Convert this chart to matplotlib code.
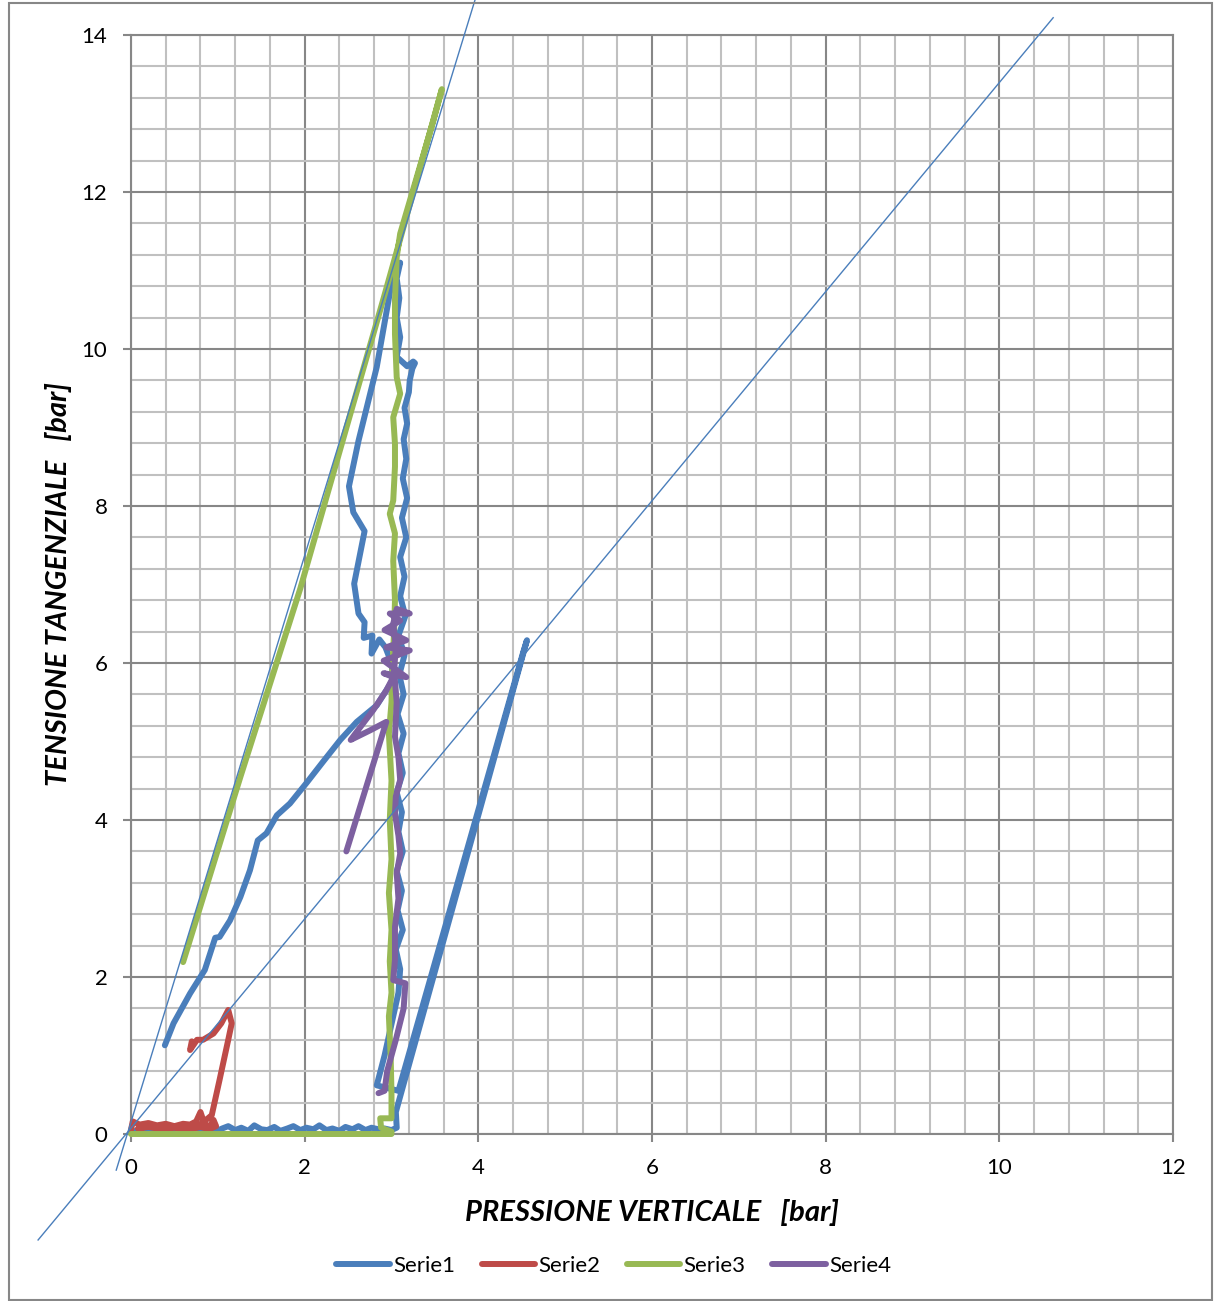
import numpy as np
import matplotlib
matplotlib.use("Agg")
import matplotlib.pyplot as plt
from matplotlib.ticker import MultipleLocator
from matplotlib.patches import Rectangle

plt.rcParams['font.family'] = ['Lato', 'DejaVu Sans']

# ---------------- data ----------------
# Serie1
s1_x = [0.00, 0.08, 0.15, 0.22, 0.30, 0.37, 0.44, 0.52, 0.60, 0.67, 0.74, 0.82, 0.90, 0.97, 1.05, 1.12,
        1.20, 1.27, 1.35, 1.42, 1.50, 1.57, 1.65, 1.72, 1.80, 1.87, 1.95, 2.02, 2.10, 2.17, 2.25, 2.32,
        2.40, 2.47, 2.55, 2.62, 2.70, 2.77, 2.85, 2.92, 3.00, 3.06,
        3.05, 4.56, 4.52, 3.08, 2.83,
        2.92, 3.00, 3.08, 3.10, 3.05, 3.13, 3.07, 3.12, 3.06, 3.13, 3.08, 3.12, 3.06, 3.13, 3.08, 3.14,
        3.07, 3.14, 3.09, 3.15, 3.08, 3.16, 3.10, 3.15, 3.10, 3.17, 3.12, 3.18, 3.13, 3.17, 3.14,
        3.18, 3.15, 3.20, 3.21, 3.24, 3.27, 3.25, 3.18, 3.06, 3.10, 3.06, 3.09, 3.06, 3.10,
        3.02, 2.83, 2.62, 2.51, 2.56, 2.69, 2.57, 2.62, 2.69, 2.68, 2.78, 2.77, 2.86, 2.93, 3.00, 3.02,
        2.98, 2.83, 2.60, 2.41, 2.21, 2.02, 1.83, 1.68, 1.56, 1.46, 1.37, 1.26, 1.14, 1.02, 0.97, 0.85,
        0.68, 0.49, 0.39]
s1_y = [0.02, 0.05, 0.03, 0.07, 0.04, 0.06, 0.03, 0.08, 0.05, 0.04, 0.09, 0.05, 0.06, 0.03, 0.07, 0.10,
        0.05, 0.08, 0.04, 0.11, 0.06, 0.05, 0.09, 0.04, 0.07, 0.10, 0.05, 0.08, 0.06, 0.11, 0.05, 0.07,
        0.04, 0.09, 0.06, 0.10, 0.05, 0.08, 0.06, 0.07, 0.05, 0.08,
        0.28, 6.29, 6.15, 0.55, 0.62,
        1.00, 1.40, 1.80, 2.10, 2.35, 2.60, 2.85, 3.10, 3.35, 3.60, 3.85, 4.10, 4.35, 4.60, 4.85, 5.10,
        5.35, 5.60, 5.85, 6.10, 6.35, 6.60, 6.85, 7.10, 7.35, 7.60, 7.85, 8.10, 8.35, 8.60, 8.85,
        9.05, 9.25, 9.45, 9.60, 9.75, 9.82, 9.84, 9.78, 9.90, 10.15, 10.40, 10.65, 10.90, 11.10,
        10.96, 9.77, 8.83, 8.25, 7.92, 7.68, 7.01, 6.63, 6.52, 6.32, 6.35, 6.12, 6.30, 6.20, 6.00, 5.80,
        5.72, 5.46, 5.25, 5.02, 4.74, 4.47, 4.21, 4.06, 3.83, 3.74, 3.36, 3.02, 2.72, 2.51, 2.50, 2.09,
        1.79, 1.41, 1.13]

# Serie2
s2_x = [0.00, 0.02, 0.10, 0.20, 0.30, 0.40, 0.50, 0.60, 0.68, 0.75, 0.80, 0.84, 0.90, 0.95, 0.98,
        0.90, 0.80, 0.65, 0.50, 0.35, 0.20, 0.08, 0.20, 0.40, 0.60, 0.80,
        0.93, 1.02, 1.12, 1.16, 1.12, 1.04, 0.95, 0.83, 0.76, 0.68, 0.70]
s2_y = [0.05, 0.16, 0.12, 0.14, 0.11, 0.13, 0.10, 0.13, 0.12, 0.16, 0.28, 0.15, 0.08, 0.18, 0.10,
        0.06, 0.09, 0.05, 0.08, 0.06, 0.09, 0.07, 0.10, 0.08, 0.10, 0.12,
        0.24, 0.69, 1.20, 1.41, 1.58, 1.41, 1.28, 1.20, 1.20, 1.07, 1.18]

# Serie3
s3_x = [0.00, 1.00, 2.00, 3.00, 3.00, 2.88, 2.87, 3.00, 3.00, 2.99, 2.97, 3.00, 2.98, 3.00, 2.97,
        3.00, 2.98, 3.00, 2.97, 3.00, 3.01, 3.03, 3.04, 3.02, 3.04, 2.98, 3.02, 3.04, 3.04, 3.02, 3.10,
        3.06, 3.04, 3.04, 3.06, 3.10, 3.48, 3.58,
        3.10, 2.91, 2.52, 1.95, 1.26, 0.60]
s3_y = [0.00, 0.00, 0.00, 0.00, 0.03, 0.08, 0.20, 0.20, 0.52, 1.00, 1.50, 1.80, 2.20, 2.60, 3.07,
        3.50, 4.00, 4.50, 5.10, 5.50, 5.95, 6.40, 6.80, 7.30, 7.65, 7.90, 8.07, 8.50, 8.79, 9.13, 9.43,
        9.64, 10.19, 10.62, 11.17, 11.47, 12.90, 13.31,
        11.40, 10.65, 9.15, 6.95, 4.55, 2.19]

# Serie4
s4_x = [2.48, 2.94, 2.75, 2.53, 2.57, 2.70, 2.79, 2.94, 3.02,
        2.91, 3.17, 2.91, 3.21, 2.94, 3.17, 2.92, 3.10, 2.98, 3.21, 3.06, 3.02, 3.05, 3.03,
        3.06, 3.04, 3.08, 3.10, 3.05, 3.04, 3.08, 3.10, 3.06, 3.08, 3.04, 3.04, 3.02, 3.16,
        3.14, 3.05, 2.95, 2.92, 2.85]
s4_y = [3.60, 5.25, 5.14, 5.02, 5.08, 5.27, 5.40, 5.65, 5.82,
        5.87, 5.82, 6.03, 6.16, 6.20, 6.29, 6.42, 6.54, 6.63, 6.63, 6.69, 6.50, 6.20, 5.90,
        5.50, 5.06, 4.80, 4.51, 4.30, 4.08, 3.80, 3.57, 3.32, 3.00, 2.64, 2.22, 1.96, 1.92,
        1.60, 1.20, 0.80, 0.55, 0.52]

# reference straight lines (endpoints, data units)
line_a_x = [-0.17, 3.96]
line_a_y = [-0.46, 14.44]
line_b_x = [-1.07, 10.62]
line_b_y = [-1.35, 14.22]

series_names = ['Serie1', 'Serie2', 'Serie3', 'Serie4']
series_colors = ['#4A7EBB', '#BE4B48', '#98B954', '#7D60A0']

# ---------------- figure ----------------
fig = plt.figure(figsize=(12.15, 13.01), dpi=100)
ax = fig.add_axes([131 / 1215, 1 - 1134 / 1301, (1173 - 131) / 1215, (1134 - 35) / 1301])

ax.set_xlim(0, 12)
ax.set_ylim(0, 14)
ax.xaxis.set_major_locator(MultipleLocator(2))
ax.yaxis.set_major_locator(MultipleLocator(2))
ax.xaxis.set_minor_locator(MultipleLocator(0.4))
ax.yaxis.set_minor_locator(MultipleLocator(0.4))
ax.grid(which='minor', color='#C0C0C0', linewidth=1.5, zorder=0)
ax.grid(which='major', color='#878787', linewidth=1.5, zorder=0)
ax.set_axisbelow(True)
for s in ax.spines.values():
    s.set_color('#878787')
    s.set_linewidth(1.5)
ax.tick_params(which='major', direction='out', length=6, width=1.5, color='#878787',
               labelsize=16)
ax.tick_params(axis='x', which='major', pad=11)
ax.tick_params(axis='y', which='major', pad=11)
ax.tick_params(which='minor', length=0)

data = [(s1_x, s1_y), (s2_x, s2_y), (s3_x, s3_y), (s4_x, s4_y)]
for (xs, ys), name, col in zip(data, series_names, series_colors):
    ax.plot(xs, ys, color=col, linewidth=4.3, label=name, solid_joinstyle='round',
            solid_capstyle='round', clip_on=False, zorder=3)

ax.plot(line_a_x, line_a_y, color='#4A7EBB', linewidth=1.0, clip_on=False, zorder=4)
ax.plot(line_b_x, line_b_y, color='#4A7EBB', linewidth=1.0, clip_on=False, zorder=4)

ax.set_xlabel('PRESSIONE VERTICALE   [bar]', fontsize=21, fontweight='bold', style='italic')
ax.set_ylabel('TENSIONE TANGENZIALE   [bar]', fontsize=21, fontweight='bold', style='italic')
ax.xaxis.set_label_coords(0.5, (1134 - 1199) / 1099)
ax.yaxis.set_label_coords((72 - 131) / 1042, 0.5)

handles, labels = ax.get_legend_handles_labels()
fig.legend(handles, labels, loc='center', bbox_to_anchor=(0.505, 1 - 1266 / 1301), ncol=4,
           frameon=False, fontsize=16, handlelength=2.4, columnspacing=1.2, handletextpad=0.15)

fig.patches.append(Rectangle((9 / 1215, 1 / 1301), 1203 / 1215, 1297 / 1301,
                             transform=fig.transFigure, fill=False, edgecolor='#878787',
                             linewidth=1.5))

fig.savefig('out.png', dpi=100)
